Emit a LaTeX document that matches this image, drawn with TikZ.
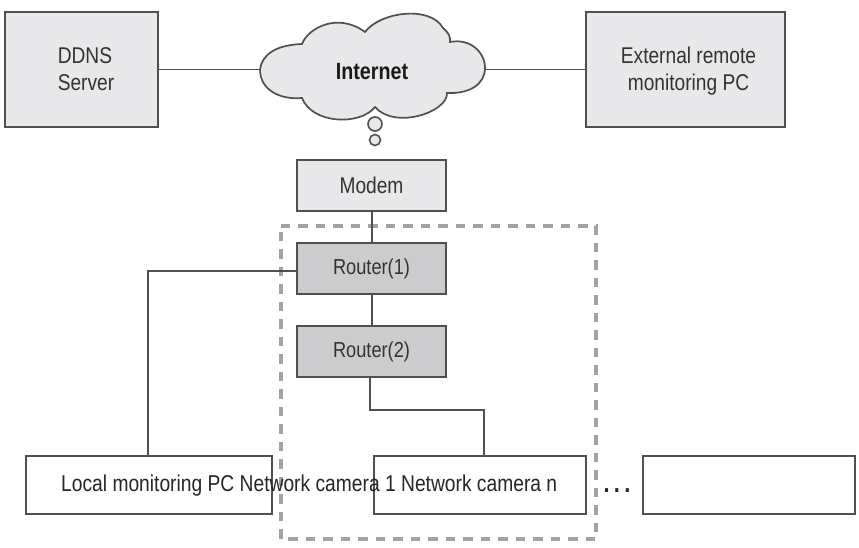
\documentclass[tikz,border=0pt]{standalone}
\usepackage{fontspec}
\setmainfont[FakeStretch=0.84]{Liberation Sans}
\definecolor{ln}{HTML}{505050}
\definecolor{lightbox}{HTML}{E8E8EA}
\definecolor{darkbox}{HTML}{CCCCCE}
\definecolor{dashc}{HTML}{A3A3A3}
\tikzset{
  x=1pt,y=-1pt,
  wire/.style={draw=ln,line width=1.4pt},
  boxbase/.style={draw=ln,line width=1.7pt,minimum height=0pt,inner sep=0pt,align=center,text=black!80,font=\fontsize{22.8}{27}\selectfont},
  graybox/.style={boxbase,fill=lightbox},
  routerbox/.style={boxbase,fill=darkbox,font=\fontsize{21.7}{27}\selectfont},
  whitebox/.style={boxbase,fill=white},
  label/.style={inner sep=0pt,text=black!85,font=\fontsize{22.9}{27}\selectfont},
  bubble/.style={draw=ln,line width=1.6pt,fill=lightbox,circle,inner sep=0pt},
}
\newcommand{\bx}[7]{\node[#1,minimum width=#4pt-#3pt,minimum height=#6pt-#5pt] (#2) at ({(#3+#4)/2},{(#5+#6)/2}) {#7};}
\begin{document}
\begin{tikzpicture}
\useasboundingbox (0,0) rectangle (859,548);
\fill[white] (0,0) rectangle (859,548);
% named anchors
\coordinate (cloudL) at (260,69.5);
\coordinate (cloudR) at (485,69.5);
% nodes
\bx{graybox,align=left}{ddns}{5}{158}{12}{127}{\hspace*{9pt}DDNS\\\hspace*{9pt}Server}
\bx{graybox}{ext}{586}{785}{12}{127}{\hspace*{6pt}\rule{0pt}{19.6pt}External remote\\\hspace*{6pt}monitoring PC}
\bx{graybox}{modem}{297}{446}{160}{211}{Modem}
\bx{whitebox}{local}{26}{272}{456}{514}{}
\bx{whitebox}{cam}{374}{586}{456}{514}{}
\bx{whitebox}{last}{643}{855}{456}{514}{}
% connectors
\draw[wire] (ddns.east) -- (cloudL);
\draw[wire] (cloudR) -- (ext.west);
% cloud
\draw[draw=ln,line width=1.7pt,fill=lightbox]
  (cloudL)
  .. controls (262,55) and (275,45) .. (302,44)
  .. controls (308,28) and (338,12) .. (365,32)
  .. controls (380,12) and (430,5) .. (443,28)
  .. controls (448,32) and (451,37) .. (450,42)
  .. controls (470,38) and (485,52) .. (485,68)
  .. controls (485,84) and (470,94) .. (447,93)
  .. controls (448,112) and (395,130) .. (375,107)
  .. controls (360,126) and (312,124) .. (302,98)
  .. controls (280,100) and (260,90) .. (cloudL) -- cycle;
\node[inner sep=0pt,font=\fontsize{23.5}{27}\selectfont\bfseries,text=black!90] (internet) at (372,72) {Internet};
\node[bubble,minimum size=14pt] (b1) at (375,124) {};
\node[bubble,minimum size=11pt] (b2) at (375,140) {};
% router section
\draw[dashc,line width=4pt,dash pattern=on 9.5pt off 8pt] (280.5,225.5) -- (596,225.5) -- (596,539) -- (280.5,539) -- cycle;
\bx{routerbox}{r1}{297}{446}{243}{294}{Router(1)}
\bx{routerbox}{r2}{297}{446}{326}{377}{Router(2)}
\coordinate (m1) at (372,211);
\coordinate (m2) at (372,243);
\coordinate (m3) at (372,294);
\coordinate (m4) at (372,326);
\coordinate (r2out) at (370,377);
\coordinate (localtop) at (148,456);
\draw[wire] (m1) -- (m2);
\draw[wire] (m3) -- (m4);
\draw[wire] (r1.west |- 0,271) -- (148,271) -- (localtop);
\draw[wire] (r2out) -- (370,410) -- (484,410) -- (484,456);
% bottom text
\node[label,anchor=west] (bottom) at (61,486) {Local monitoring PC Network camera 1 Network camera n};
\node[inner sep=0pt,font=\fontsize{26}{28}\selectfont\bfseries,text=black!85] (dots) at (617,491) {.\,.\,.};
\end{tikzpicture}
\end{document}
